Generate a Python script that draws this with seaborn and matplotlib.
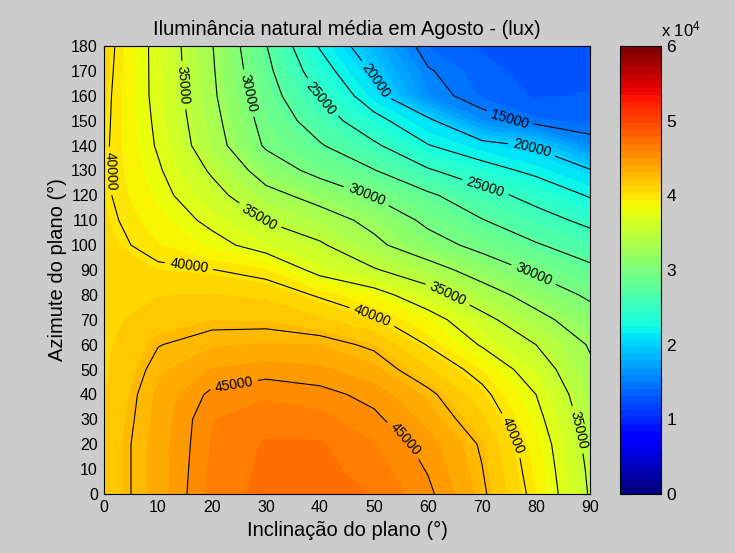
import numpy as np
import matplotlib
matplotlib.use("Agg")
import matplotlib.pyplot as plt
import seaborn as sns

# eixos da grelha (graus)
inclinacao = [0, 10, 20, 30, 40, 50, 60, 70, 80, 90]
azimute = list(range(0, 181, 10))

# iluminancia media (lux): uma lista por azimute, colunas = inclinacao
lux_az000 = [41500, 43500, 46300, 47200, 47400, 46800, 45300, 42800, 39400, 34800]
lux_az010 = [41500, 43500, 46150, 47100, 47200, 46400, 44900, 42550, 39100, 34600]
lux_az020 = [41500, 43500, 46000, 47000, 47000, 46000, 44500, 42300, 38800, 34300]
lux_az030 = [41350, 43400, 45900, 46400, 46200, 45300, 43700, 41400, 38150, 33900]
lux_az040 = [41200, 43300, 45300, 45800, 45400, 44600, 42900, 40500, 37500, 33400]
lux_az050 = [41100, 42900, 44100, 44500, 44250, 43400, 41400, 39300, 36250, 32900]
lux_az060 = [41000, 42450, 43000, 43200, 43100, 42200, 39900, 37300, 35000, 32300]
lux_az070 = [40900, 41800, 42150, 42100, 41450, 40300, 38500, 35700, 33250, 31100]
lux_az080 = [40800, 41200, 41300, 41000, 39800, 38400, 36000, 33600, 31500, 29600]
lux_az090 = [40700, 40300, 40050, 39400, 36800, 35200, 33500, 31450, 29600, 28000]
lux_az100 = [40600, 39400, 38200, 36600, 35300, 33000, 31000, 29300, 27700, 26300]
lux_az110 = [40450, 38800, 37000, 34900, 33500, 31900, 29450, 27600, 25950, 24400]
lux_az120 = [40300, 38200, 35800, 33200, 31700, 29800, 27900, 25900, 24200, 22300]
lux_az130 = [40300, 37750, 34700, 31450, 29200, 27600, 25250, 23450, 21950, 20200]
lux_az140 = [40300, 37300, 33600, 29700, 27700, 25400, 22600, 21000, 19700, 16000]
lux_az150 = [40400, 37100, 33250, 29150, 26300, 23250, 20600, 16000, 14200, 13800]
lux_az160 = [40500, 36900, 32900, 28600, 24900, 21100, 16000, 13900, 13000, 13200]
lux_az170 = [40650, 36850, 32750, 28100, 23600, 19650, 15200, 13450, 12750, 12850]
lux_az180 = [40800, 36800, 32600, 27600, 22300, 18250, 14000, 13000, 12500, 12500]

lux = np.array([lux_az000, lux_az010, lux_az020, lux_az030, lux_az040,
                lux_az050, lux_az060, lux_az070, lux_az080, lux_az090,
                lux_az100, lux_az110, lux_az120, lux_az130, lux_az140,
                lux_az150, lux_az160, lux_az170, lux_az180])

niveis_rotulados = [15000, 20000, 25000, 30000, 35000, 40000, 45000]
niveis_intermedios = [22500, 27500, 32500, 37500, 42500]
cbar_ticks = [0, 10000, 20000, 30000, 40000, 50000, 60000]
cbar_labels = ["0", "1", "2", "3", "4", "5", "6"]

# onde ficam os rotulos das curvas (aprox. como no original)
pos_rotulos = [
    (75, 150),
    (48, 163), (79, 137),
    (37, 152), (70, 119),
    (24, 160), (48, 116), (78.5, 83),
    (12, 164), (28, 109), (63, 77), (84, 24),
    (2.8, 130), (15.5, 88), (49, 67), (72.8, 20.5),
    (24, 45), (53.3, 16.5),
]

sns.set_style("ticks", {"xtick.direction": "in", "ytick.direction": "in",
                        "axes.edgecolor": "black", "xtick.color": "black",
                        "ytick.color": "black", "text.color": "black",
                        "axes.labelcolor": "black"})
plt.rcParams["font.family"] = ["Liberation Sans", "DejaVu Sans"]
plt.rcParams["mathtext.default"] = "regular"

fig = plt.figure(figsize=(7.35, 5.53), dpi=100, facecolor="#cccccc")
ax = fig.add_axes([0.1415, 0.1067, 0.6612, 0.8101])
cax = fig.add_axes([0.8435, 0.1067, 0.0558, 0.8101])

cmap = plt.get_cmap("jet", 64)
cf = ax.contourf(inclinacao, azimute, lux, levels=np.linspace(0, 60000, 65),
                 cmap=cmap, vmin=0, vmax=60000)
ax.contour(inclinacao, azimute, lux, levels=niveis_intermedios,
           colors="black", linewidths=0.8)
cs = ax.contour(inclinacao, azimute, lux, levels=niveis_rotulados,
                colors="black", linewidths=0.8)
ax.clabel(cs, manual=pos_rotulos, inline=True, fmt="%d", fontsize=10,
          colors="black")

ax.set_xlim(0, 90)
ax.set_ylim(0, 180)
ax.set_xticks(range(0, 91, 10))
ax.set_yticks(range(0, 181, 10))
ax.tick_params(direction="in", top=True, right=True, length=4, width=0.8,
               labelsize=11.5, pad=4.5)
for s in ax.spines.values():
    s.set_linewidth(0.8)
ax.set_title("Iluminância natural média em Agosto - (lux)", fontsize=14.5, pad=8)
ax.set_xlabel("Inclinação do plano (°)", fontsize=14.5, labelpad=4)
ax.set_ylabel("Azimute do plano (°)", fontsize=14.5, labelpad=3)

cb = fig.colorbar(cf, cax=cax, ticks=cbar_ticks)
cb.ax.set_yticklabels(cbar_labels)
cax.tick_params(direction="in", left=True, right=True, length=4, width=0.8,
                labelsize=12.5, pad=4)
cb.outline.set_linewidth(0.8)
cax.text(1.0, 1.014, "x 10$^{4}$", transform=cax.transAxes, ha="left",
         va="bottom", fontsize=12)

fig.savefig("out.png", dpi=100, facecolor=fig.get_facecolor())
